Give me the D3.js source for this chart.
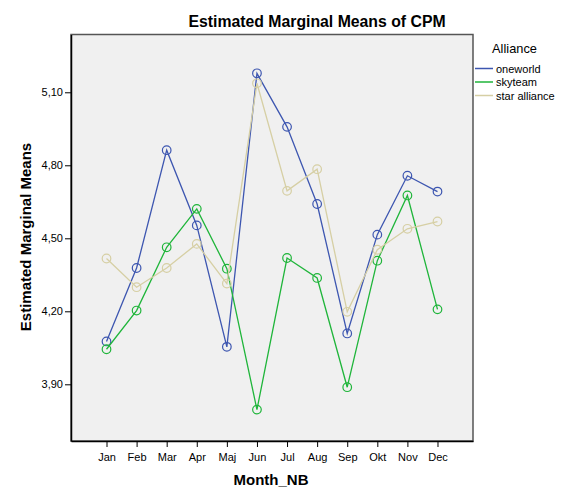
<!DOCTYPE html>
<html>
<head>
<meta charset="utf-8">
<script src="https://cdn.jsdelivr.net/npm/d3@7"></script>
<style>
  body { margin: 0; background: #fff; }
  text { font-family: "Liberation Sans", Arial, sans-serif; fill: #000; }
</style>
</head>
<body>
<div id="chart"></div>
<script>
const months = ["Jan", "Feb", "Mar", "Apr", "Maj", "Jun", "Jul", "Aug", "Sep", "Okt", "Nov", "Dec"];
const alliances = ["oneworld", "skyteam", "star alliance"];
const oneworld = [4.076, 4.378, 4.862, 4.553, 4.054, 5.178, 4.958, 4.641, 4.109, 4.515, 4.757, 4.692];
const skyteam = [4.044, 4.203, 4.463, 4.621, 4.375, 3.796, 4.419, 4.337, 3.888, 4.408, 4.676, 4.208];
const starAlliance = [4.417, 4.299, 4.378, 4.477, 4.314, 5.137, 4.695, 4.784, 4.198, 4.453, 4.539, 4.569];
const yTicks = [3.9, 4.2, 4.5, 4.8, 5.1];
const colors = ["#3d56b0", "#1fb53a", "#d6cfa4"];

const series = [oneworld, skyteam, starAlliance].map((vals, i) => ({
  name: alliances[i],
  color: colors[i],
  values: vals.map((v, j) => ({ month: months[j], value: v }))
}));

const width = 569, height = 492;
const plot = { left: 71, right: 473, top: 34.5, bottom: 441 };

const svg = d3.select("#chart").append("svg")
  .attr("width", width)
  .attr("height", height);

const x = d3.scalePoint()
  .domain(months)
  .range([plot.left, plot.right])
  .padding(1.18);

const y = d3.scaleLinear()
  .domain([3.667, 5.3375])
  .range([plot.bottom, plot.top]);

// plot background
svg.append("rect")
  .attr("x", plot.left)
  .attr("y", plot.top)
  .attr("width", plot.right - plot.left)
  .attr("height", plot.bottom - plot.top)
  .attr("fill", "#f0f0f0")
  .attr("stroke", "#555")
  .attr("stroke-width", 1.5);

const fmt = (d) => d3.format(".2f")(d).replace(".", ",");

// axes
const yAxis = svg.append("g")
  .attr("transform", "translate(" + plot.left + ",0)")
  .call(d3.axisLeft(y).tickValues(yTicks).tickFormat(fmt)
    .tickSizeInner(6).tickSizeOuter(0).tickPadding(2));

const xAxis = svg.append("g")
  .attr("transform", "translate(0," + plot.bottom + ")")
  .call(d3.axisBottom(x).tickSizeInner(6).tickSizeOuter(0).tickPadding(6));

[yAxis, xAxis].forEach((g) => {
  g.select(".domain").attr("stroke", "#000").attr("stroke-width", 1.5);
  g.selectAll(".tick line").attr("stroke", "#000");
  g.selectAll(".tick text")
    .attr("font-family", "'Liberation Sans', Arial, sans-serif")
    .attr("font-size", 11)
    .attr("fill", "#000");
});

// lines and markers
const line = d3.line()
  .x((d) => x(d.month))
  .y((d) => y(d.value));

const groups = svg.selectAll("g.series")
  .data(series)
  .enter()
  .append("g")
  .attr("class", "series");

groups.append("path")
  .attr("d", (d) => line(d.values))
  .attr("fill", "none")
  .attr("stroke", (d) => d.color)
  .attr("stroke-width", 1.3);

groups.each(function(s) {
  d3.select(this).selectAll("circle")
    .data(s.values)
    .enter()
    .append("circle")
    .attr("cx", (d) => x(d.month))
    .attr("cy", (d) => y(d.value))
    .attr("r", 4.3)
    .attr("fill", "none")
    .attr("stroke", s.color)
    .attr("stroke-width", 1.2);
});

// titles
svg.append("text")
  .attr("x", 317)
  .attr("y", 27)
  .attr("text-anchor", "middle")
  .attr("font-size", 15.8)
  .attr("font-weight", "bold")
  .text("Estimated Marginal Means of CPM");

svg.append("text")
  .attr("transform", "translate(31,237) rotate(-90)")
  .attr("text-anchor", "middle")
  .attr("font-size", 15)
  .attr("font-weight", "bold")
  .text("Estimated Marginal Means");

svg.append("text")
  .attr("x", 271)
  .attr("y", 485)
  .attr("text-anchor", "middle")
  .attr("font-size", 15)
  .attr("font-weight", "bold")
  .text("Month_NB");

// legend
const legend = svg.append("g").attr("transform", "translate(475,0)");

legend.append("text")
  .attr("x", 39.5)
  .attr("y", 53)
  .attr("text-anchor", "middle")
  .attr("font-size", 12.8)
  .text("Alliance");

const rows = legend.selectAll("g.row")
  .data(series)
  .enter()
  .append("g")
  .attr("class", "row")
  .attr("transform", (d, i) => "translate(0," + (68.5 + i * 13.5) + ")");

rows.append("line")
  .attr("x1", 0)
  .attr("x2", 18)
  .attr("stroke", (d) => d.color)
  .attr("stroke-width", 1.5);

rows.append("text")
  .attr("x", 21)
  .attr("y", 4)
  .attr("font-size", 11)
  .text((d) => d.name);
</script>
</body>
</html>
